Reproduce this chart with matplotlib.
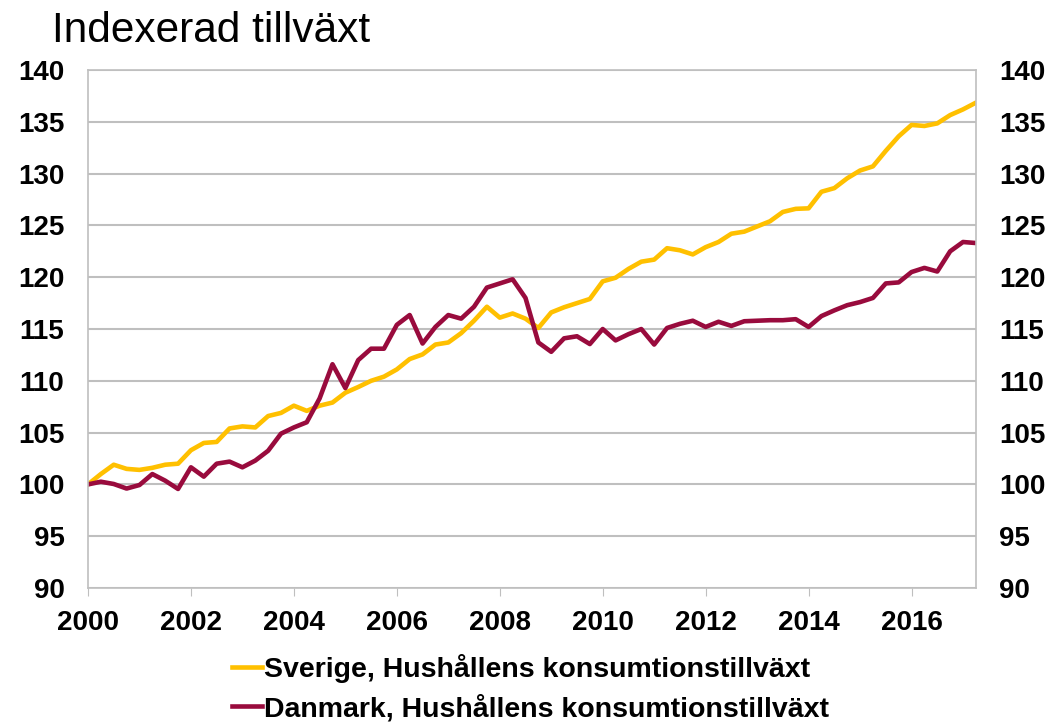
import numpy as np
import matplotlib.pyplot as plt

plt.rcParams['font.family'] = ['Liberation Sans', 'DejaVu Sans']

# Quarterly index values, 2000Q1 - 2017Q2 (2000Q1 = 100)
sverige = [100.0, 101.0, 101.9, 101.5, 101.4, 101.6, 101.9, 102.0,
           103.3, 104.0, 104.1, 105.4, 105.6, 105.5, 106.6, 106.9,
           107.6, 107.1, 107.6, 107.9, 108.85, 109.4, 110.0, 110.4,
           111.1, 112.1, 112.55, 113.5, 113.7, 114.6, 115.8, 117.15,
           116.1, 116.5, 116.0, 115.1, 116.6, 117.1, 117.5, 117.9,
           119.6, 119.95, 120.8, 121.5, 121.7, 122.8, 122.6, 122.2,
           122.9, 123.4, 124.2, 124.4, 124.9, 125.4, 126.3, 126.6,
           126.65, 128.25, 128.6, 129.55, 130.3, 130.7, 132.2, 133.6,
           134.7, 134.6, 134.85, 135.65, 136.2, 136.85]
danmark = [100.0, 100.26, 100.04, 99.6, 99.94, 101.0, 100.36, 99.56,
           101.65, 100.75, 102.0, 102.2, 101.65, 102.3, 103.25, 104.9,
           105.5, 106.0, 108.3, 111.6, 109.3, 112.0, 113.1, 113.1,
           115.4, 116.35, 113.6, 115.2, 116.35, 116.0, 117.15, 119.0,
           119.4, 119.8, 118.0, 113.7, 112.8, 114.1, 114.3, 113.55,
           115.0, 113.9, 114.5, 115.0, 113.5, 115.1, 115.5, 115.8,
           115.2, 115.7, 115.3, 115.75, 115.8, 115.85, 115.85, 115.95,
           115.2, 116.25, 116.8, 117.3, 117.6, 118.0, 119.4, 119.5,
           120.5, 120.9, 120.55, 122.5, 123.4, 123.3]
labels = ['Sverige, Hushållens konsumtionstillväxt',
          'Danmark, Hushållens konsumtionstillväxt']
year_ticks = list(range(2000, 2017, 2))
y_ticks = list(range(90, 141, 5))

x = 2000 + np.arange(len(sverige)) / 4

fig = plt.figure(figsize=(10.55, 7.22), dpi=100)
ax = fig.add_axes([0.0834, 0.1856, 0.8416, 0.7174])

ax.plot(x, sverige, color='#FFC000', lw=3.3, label=labels[0], solid_joinstyle='round')
ax.plot(x, danmark, color='#990B3D', lw=3.3, label=labels[1], solid_joinstyle='round')

ax.set_xlim(2000, 2017.25)
ax.set_ylim(90, 140)
ax.set_xticks(year_ticks)
ax.set_yticks(y_ticks)
ax.grid(axis='y', color='#bfbfbf', lw=1.5)
ax.set_axisbelow(True)
for s in ax.spines.values():
    s.set_color('#bfbfbf')
    s.set_linewidth(1.2)

# y labels on both sides, no tick marks
ax.tick_params(axis='y', length=0, pad=17, labelsize=20, labelright=True)
ax.tick_params(axis='x', length=6, color='#bfbfbf', pad=10, labelsize=20)
for tick in ax.yaxis.get_major_ticks() + ax.xaxis.get_major_ticks():
    tick.label1.set_fontweight('bold')
    tick.label2.set_fontweight('bold')

fig.text(0.049, 0.942, 'Indexerad tillväxt', fontsize=30.5, va='baseline', ha='left')

fig.legend(loc='upper center', bbox_to_anchor=(0.503, 0.1295), ncol=1,
           frameon=False, handlelength=1.05, handletextpad=0.08,
           labelspacing=0.4, prop={'size': 20.5, 'weight': 'bold'})

fig.savefig('out.png', dpi=100)
